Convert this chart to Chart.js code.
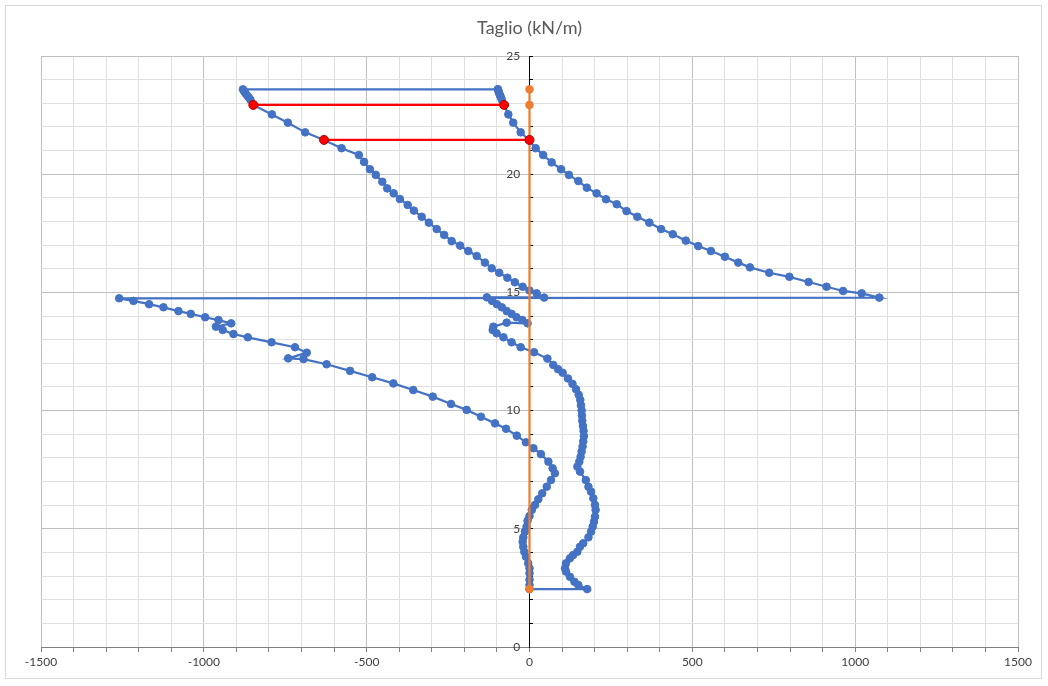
<!DOCTYPE html>
<html>
<head>
<meta charset="utf-8">
<script src="https://cdn.jsdelivr.net/npm/chart.js@4.4.0/dist/chart.umd.min.js"></script>
<style>
  html, body { margin: 0; padding: 0; background: #ffffff; }
  #wrap { width: 1048px; height: 686px; }
</style>
</head>
<body>
<div id="wrap"><canvas id="c" width="1048" height="686"></canvas></div>
<script>
// ---- Data (x = Taglio kN/m, y = quota m) ----
// Branch A, upper part (top -> strut level)
const taglioA_sup = [-97,-95,-93,-90,-88,-85,-78,-65,-50,-27,-2,19,42,68,97,121,150,176,206,235,268,298,331,368,404,440,480,518,557,600,641,677,736,798,857,912,963,1020,1074];
const quotaA_sup  = [23.59,23.5,23.42,23.33,23.25,23.15,22.93,22.53,22.18,21.77,21.45,21.1,20.81,20.5,20.21,19.97,19.71,19.43,19.19,18.94,18.73,18.44,18.2,17.95,17.68,17.46,17.19,16.96,16.75,16.51,16.26,16.06,15.83,15.66,15.44,15.24,15.06,14.96,14.78];
// Branch A, lower part (strut level -> toe)
const taglioA_inf = [-1260,-1216,-1168,-1124,-1078,-1040,-996,-955,-916,-963,-942,-909,-865,-792,-720,-684,-741,-694,-623,-551,-483,-418,-357,-297,-241,-193,-149,-106,-72,-39,-11,12,35,58,71,78,66,53,39,27,17,7,0,-6,-9,-14,-19,-21,-19,-16,-11,-4,0,0,0,0,0];
const quotaA_inf  = [14.75,14.64,14.5,14.37,14.21,14.09,13.95,13.83,13.69,13.55,13.41,13.24,13.1,12.89,12.68,12.45,12.21,12.18,11.96,11.68,11.41,11.15,10.87,10.59,10.28,10.03,9.74,9.46,9.23,8.94,8.66,8.41,8.16,7.84,7.56,7.35,7.06,6.78,6.5,6.25,6.01,5.8,5.54,5.34,5.09,4.88,4.64,4.45,4.24,4.03,3.82,3.54,3.33,3.12,2.85,2.62,2.45];
// Branch B, lower part (toe -> strut level)
const taglioB_inf = [177,150,138,124,112,109,112,124,134,147,155,165,181,189,194,198,201,203,201,196,189,181,173,155,147,153,157,160,163,165,167,166,164,162,161,160,158,156,151,143,132,118,102,88,73,55,14,-27,-55,-80,-101,-113,-111,-70,-6,-22,-40,-55,-70,-85,-100,-115,-131];
const quotaB_inf  = [2.45,2.62,2.76,2.97,3.19,3.33,3.54,3.75,3.89,4.03,4.24,4.39,4.64,4.88,5.09,5.3,5.51,5.8,6.01,6.29,6.57,6.78,7.06,7.42,7.63,7.84,8.05,8.27,8.48,8.7,8.92,9.14,9.35,9.57,9.79,10.01,10.23,10.45,10.67,10.9,11.13,11.36,11.6,11.75,11.93,12.2,12.47,12.68,12.89,13.1,13.27,13.41,13.55,13.72,13.69,13.83,13.95,14.09,14.21,14.37,14.5,14.64,14.79];
// Branch B, upper part (strut level -> top)
const taglioB_sup = [45,22,0,-21,-45,-68,-93,-116,-137,-162,-188,-213,-239,-262,-285,-309,-331,-355,-374,-398,-417,-437,-452,-472,-490,-508,-524,-577,-631,-689,-742,-791,-848,-857,-862,-867,-872,-876,-880];
const quotaB_sup  = [14.78,14.96,15.08,15.24,15.43,15.62,15.83,16.02,16.26,16.54,16.75,16.98,17.17,17.43,17.68,17.95,18.2,18.46,18.7,18.95,19.19,19.4,19.68,19.97,20.21,20.52,20.81,21.1,21.45,21.77,22.18,22.53,22.93,23.15,23.25,23.33,23.42,23.5,23.59];
// Red segments (strut levels)
const rosso1_x = [-848, -78];
const rosso1_y = [22.93, 22.93];
const rosso2_x = [-631, 0];
const rosso2_y = [21.45, 21.45];
// Orange wall axis
const asse_x = [0, 0, 0, 0];
const asse_y = [2.45, 21.45, 22.93, 23.59];
// Axis settings
const xMin = -1500, xMax = 1500, xStep = 100, xLabelEvery = 500;
const yMin = 0, yMax = 25, yStep = 1, yLabelEvery = 5;
const titolo = 'Taglio (kN/m)';

function pts(xs, ys) { return xs.map((x, i) => ({ x: x, y: ys[i] })); }

const blu = []
  .concat(pts(taglioA_sup, quotaA_sup))
  .concat(pts(taglioA_inf, quotaA_inf))
  .concat(pts(taglioB_inf, quotaB_inf))
  .concat(pts(taglioB_sup, quotaB_sup))
  .concat(pts([taglioA_sup[0]], [quotaA_sup[0]]));

const frame = {
  id: 'frame',
  beforeDraw(chart) {
    const c = chart.ctx;
    c.save();
    c.fillStyle = '#ffffff';
    c.fillRect(0, 0, chart.width, chart.height);
    c.strokeStyle = '#d9d9d9';
    c.lineWidth = 1;
    c.strokeRect(5.5, 5.5, 1036, 673);
    c.restore();
  }
};

const FONT = 'Lato, "Open Sans", "DejaVu Sans", sans-serif';

new Chart(document.getElementById('c'), {
  type: 'scatter',
  data: {
    datasets: [
      { label: 'r1', data: pts(rosso1_x, rosso1_y), showLine: true, borderColor: '#ff0000', borderWidth: 2.25,
        pointRadius: 4.5, pointBackgroundColor: '#ff0000', pointBorderColor: '#b00000', pointBorderWidth: 1, order: 0 },
      { label: 'r2', data: pts(rosso2_x, rosso2_y), showLine: true, borderColor: '#ff0000', borderWidth: 2.25,
        pointRadius: 4.5, pointBackgroundColor: '#ff0000', pointBorderColor: '#b00000', pointBorderWidth: 1, order: 1 },
      { label: 'asse', data: pts(asse_x, asse_y), showLine: true, borderColor: '#ed7d31', borderWidth: 2.25,
        pointRadius: 3.8, pointBackgroundColor: '#ed7d31', pointBorderColor: '#ed7d31', pointBorderWidth: 1, order: 2 },
      { label: 'taglio', data: blu, showLine: true, borderColor: '#4472c4', borderWidth: 2.25,
        pointRadius: 3.8, pointBackgroundColor: '#4472c4', pointBorderColor: '#4472c4', pointBorderWidth: 1, order: 3 }
    ]
  },
  options: {
    responsive: false,
    animation: false,
    devicePixelRatio: 1,
    layout: { padding: { left: 41, right: 30, top: 0, bottom: 0 } },
    plugins: {
      legend: { display: false },
      tooltip: { enabled: false },
      title: {
        display: true, text: titolo, color: '#595959',
        font: { family: FONT, size: 18, weight: 'normal' },
        padding: { top: 17, bottom: 17.4 }
      }
    },
    scales: {
      x: {
        type: 'linear', position: 'bottom', min: xMin, max: xMax,
        afterFit(s) { s.height = 39; },
        ticks: {
          stepSize: xStep, autoSkip: false, maxRotation: 0, padding: 3,
          color: '#404040', font: { family: FONT, size: 12 },
          callback: v => (v % xLabelEvery === 0 ? String(v) : '')
        },
        grid: {
          color: c => (c.tick && c.tick.value % xLabelEvery === 0 ? '#bfbfbf' : '#e0e0e0'),
          tickColor: '#808080', tickLength: 5, lineWidth: 1
        },
        border: { color: '#808080', width: 1 }
      },
      y: {
        type: 'linear', position: { x: 0 }, min: yMin, max: yMax,
        ticks: {
          stepSize: yStep, autoSkip: false,
          color: '#404040', font: { family: FONT, size: 12 },
          callback: v => (v % yLabelEvery === 0 ? String(v) + '   ' : '')
        },
        grid: {
          color: c => (c.tick && c.tick.value % yLabelEvery === 0 ? '#bfbfbf' : '#e0e0e0'),
          tickColor: '#000000', tickLength: -4, lineWidth: 1
        },
        border: { color: '#000000', width: 1 }
      }
    }
  },
  plugins: [frame]
});
</script>
</body>
</html>
